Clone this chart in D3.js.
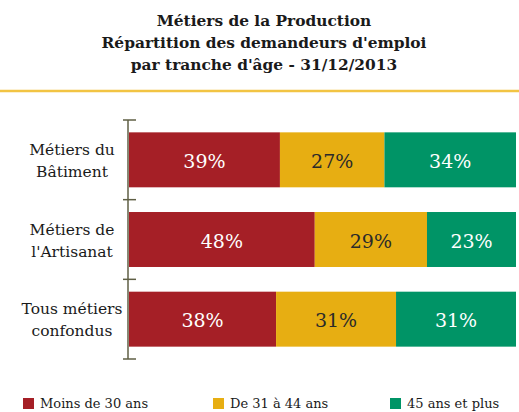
<!DOCTYPE html>
<html>
<head>
<meta charset="utf-8">
<style>
  body { margin: 0; background: #fff; }
  .title { font-size: 15.4px; font-weight: bold; fill: #1a1a1a; }
  .cat { font-size: 15.5px; fill: #1a1a1a; }
  .pct { font-size: 19px; }
  .leg { font-size: 13px; fill: #1a1a1a; }
</style>
</head>
<body>
<div id="chart"></div>
<script src="https://d3js.org/d3.v7.min.js"></script>
<script>
  var categories = [["Métiers du", "Bâtiment"], ["Métiers de", "l'Artisanat"], ["Tous métiers", "confondus"]];
  var seriesNames = ["Moins de 30 ans", "De 31 à 44 ans", "45 ans et plus"];
  var moins30 = [39, 48, 38];
  var de31a44 = [27, 29, 31];
  var plus45 = [34, 23, 31];
  var colors = ["#A51F26", "#E7AE12", "#009466"];
  var labelColors = ["#ffffff", "#2a2a2a", "#ffffff"];
  var titleLines = ["Métiers de la Production", "Répartition des demandeurs d'emploi", "par tranche d'âge - 31/12/2013"];

  var FONT = "DejaVu Serif";
  var W = 519, H = 412;
  var svg = d3.select("#chart").append("svg")
    .attr("width", W).attr("height", H)
    .style("font-family", FONT);

  // title
  svg.selectAll("text.title").data(titleLines).enter().append("text")
    .attr("class", "title")
    .style("font-family", FONT)
    .attr("x", 264)
    .attr("y", function(d, i) { return 26 + i * 22; })
    .attr("text-anchor", "middle")
    .text(function(d) { return d; });

  svg.append("line")
    .attr("x1", 0).attr("x2", W).attr("y1", 91).attr("y2", 91)
    .attr("stroke", "#F2C443").attr("stroke-width", 2.5);

  var rows = categories.map(function(c, i) {
    return { cat: c, vals: [moins30[i], de31a44[i], plus45[i]], idx: i };
  });

  var x = d3.scaleLinear().domain([0, 100]).range([129, 516]);
  var y = d3.scaleBand().domain(d3.range(categories.length)).range([120, 359]).paddingInner(0.31).paddingOuter(0.155);

  // bars
  var g = svg.append("g");
  rows.forEach(function(r) {
    var cum = 0;
    r.vals.forEach(function(v, k) {
      var x0 = x(cum), x1 = x(cum + v);
      g.append("rect")
        .attr("x", x0).attr("y", y(r.idx))
        .attr("width", x1 - x0).attr("height", y.bandwidth())
        .attr("fill", colors[k]);
      g.append("text")
        .attr("class", "pct")
        .style("font-family", FONT)
        .attr("x", (x0 + x1) / 2)
        .attr("y", y(r.idx) + y.bandwidth() / 2 + 8)
        .attr("text-anchor", "middle")
        .attr("fill", labelColors[k])
        .text(v + "%");
      cum += v;
    });
  });

  // axis line with tick marks between categories
  var axisColor = "#5f5f45";
  svg.append("line")
    .attr("x1", 128).attr("x2", 128).attr("y1", 120).attr("y2", 359)
    .attr("stroke", axisColor).attr("stroke-width", 1.5);
  var tickYs = d3.range(categories.length + 1).map(function(i) {
    return 120 + i * (359 - 120) / categories.length;
  });
  svg.selectAll("line.tick").data(tickYs).enter().append("line")
    .attr("x1", 123).attr("x2", 136)
    .attr("y1", function(d) { return d; }).attr("y2", function(d) { return d; })
    .attr("stroke", axisColor).attr("stroke-width", 1.5);

  // category labels
  rows.forEach(function(r) {
    var cy = y(r.idx) + y.bandwidth() / 2;
    r.cat.forEach(function(line, j) {
      svg.append("text")
        .attr("class", "cat")
        .style("font-family", FONT)
        .attr("x", 72)
        .attr("y", cy - 5 + j * 22)
        .attr("text-anchor", "middle")
        .text(line);
    });
  });

  // legend
  var legX = [23, 213, 390];
  seriesNames.forEach(function(name, k) {
    svg.append("rect")
      .attr("x", legX[k]).attr("y", 398)
      .attr("width", 11).attr("height", 11)
      .attr("fill", colors[k]);
    svg.append("text")
      .attr("class", "leg")
      .style("font-family", FONT)
      .attr("x", legX[k] + 17).attr("y", 408)
      .text(name);
  });
</script>
</body>
</html>
